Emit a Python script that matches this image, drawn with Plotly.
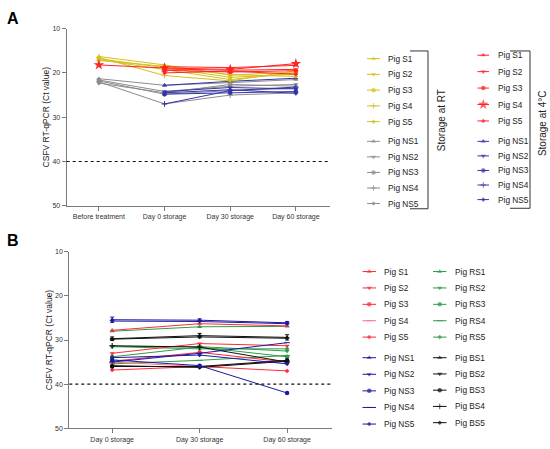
import plotly.graph_objects as go

W, H = 550, 449

# ---------------- data ----------------
timepoints_a = ["Before treatment", "Day 0 storage", "Day 30 storage", "Day 60 storage"]
timepoints_b = ["Day 0 storage", "Day 30 storage", "Day 60 storage"]
y_ticks = [10, 20, 30, 40, 50]
threshold_ct = 40

names_s = ["Pig S1", "Pig S2", "Pig S3", "Pig S4", "Pig S5"]
names_ns = ["Pig NS1", "Pig NS2", "Pig NS3", "Pig NS4", "Pig NS5"]
names_rs = ["Pig RS1", "Pig RS2", "Pig RS3", "Pig RS4", "Pig RS5"]
names_bs = ["Pig BS1", "Pig BS2", "Pig BS3", "Pig BS4", "Pig BS5"]

# Panel A - storage at RT (yellow S, gray NS)
a_rt_s = [
    [16.3, 18.2, 20.5, 19.8],
    [16.8, 18.8, 21.0, 20.3],
    [17.0, 19.2, 21.5, 20.0],
    [16.5, 20.6, 21.8, 19.5],
    [17.2, 18.5, 20.4, 20.8],
]
a_rt_ns = [
    [21.3, 22.8, 22.2, 21.5],
    [21.6, 24.2, 23.0, 22.6],
    [21.8, 24.8, 24.0, 23.5],
    [22.0, 27.0, 25.0, 24.5],
    [22.3, 24.5, 22.6, 23.0],
]
# Panel A - storage at 4 C (red S, blue NS)
a_4c_s = [
    [None, 18.6, 18.8, 18.3],
    [None, 19.1, 19.4, 19.2],
    [None, 19.4, 19.8, 19.5],
    [18.2, 18.9, 19.2, 17.9],
    [None, 20.0, 19.6, 20.3],
]
a_4c_ns = [
    [None, 22.8, 21.9, 21.2],
    [None, 24.2, 23.3, 23.6],
    [None, 24.8, 24.5, 24.2],
    [None, 27.0, 24.0, 23.2],
    [None, 24.5, 23.8, 24.6],
]

# Panel B
b_s = [
    [27.8, 26.3, 26.8],
    [33.0, 30.8, 31.3],
    [34.8, 32.8, 35.0],
    [35.0, 36.0, 34.8],
    [36.8, 36.0, 37.0],
]
b_rs = [
    [28.0, 27.0, 26.9],
    [31.4, 31.5, 32.5],
    [33.8, 31.6, 33.8],
    [35.4, 34.6, 33.5],
    [31.5, 32.0, 32.0],
]
b_ns = [
    [25.4, 25.5, 26.1],
    [25.7, 25.8, 26.3],
    [34.5, 35.8, 42.0],
    [35.0, 33.0, 30.6],
    [34.0, 33.4, 35.4],
]
b_bs = [
    [29.7, 29.0, 29.4],
    [29.8, 29.3, 29.6],
    [36.0, 36.0, 34.6],
    [31.3, 31.6, 35.0],
    [35.8, 36.2, 34.8],
]
b_ns_err = [[0.6, 0.3, 0.3], None, None, None, None]
b_bs_err = [[0.4, 0.5, 0.6], None, None, None, None]

# ---------------- styles ----------------
YELLOW = "#d4c01c"
GRAY = "#8c8c8c"
RED = "#ff2424"
BLUE = "#3434aa"
RED_B = "#ff2a3a"
PINK_B = "#ff6f80"
GREEN = "#2e9c46"
NAVY = "#1a1aa0"
BLACK = "#111111"
AXIS = "#7a7a7a"
TXT = "#222222"
FONT = "Arial, Liberation Sans, sans-serif"

sym_a = ["triangle-up", "triangle-down", "circle", "cross-thin", "diamond"]
size_a = [4.5, 4.5, 4.5, 4, 3.5]
sym_b = ["triangle-up", "triangle-down", "circle", "line-ew", "diamond"]
size_b = [4.5, 4.5, 4.5, 4, 3.5]
STAR_SIZE = 8

fig = go.Figure()


def px_x(v):
    return v / W


def px_y(v):
    return 1 - v / H


def is_open(symbol):
    return "thin" in symbol or "line" in symbol


def add_series(xcats, vals, color, symbol, size, xa, ya, name, err=None):
    xs = [c for c, v in zip(xcats, vals) if v is not None]
    ys = [v for v in vals if v is not None]
    kw = {}
    if err is not None:
        kw["error_y"] = dict(type="data", array=err, color=color, thickness=1, width=2)
    fig.add_trace(go.Scatter(
        x=xs, y=ys, mode="lines+markers", name=name,
        line=dict(color=color, width=1),
        marker=dict(symbol=symbol, size=size, color=color,
                    line=dict(width=1 if is_open(symbol) else 0, color=color)),
        xaxis=xa, yaxis=ya, showlegend=False, **kw))


# Panel A traces (x / y)
for i in range(5):
    add_series(timepoints_a, a_rt_ns[i], GRAY, sym_a[i], size_a[i], "x", "y", names_ns[i] + " (RT)")
for i in range(5):
    add_series(timepoints_a, a_4c_ns[i], BLUE, sym_a[i], size_a[i], "x", "y", names_ns[i] + " (4°C)")
for i in range(5):
    add_series(timepoints_a, a_rt_s[i], YELLOW, sym_a[i], size_a[i], "x", "y", names_s[i] + " (RT)")
for i in range(5):
    sym = "star" if i == 3 else sym_a[i]
    sz = STAR_SIZE if i == 3 else size_a[i]
    add_series(timepoints_a, a_4c_s[i], RED, sym, sz, "x", "y", names_s[i] + " (4°C)")

# Panel B traces (x2 / y2)
b_s_colors = [RED_B, RED_B, RED_B, PINK_B, RED_B]
sym_bs = sym_b[:3] + ["cross-thin", sym_b[4]]
for i in range(5):
    add_series(timepoints_b, b_rs[i], GREEN, sym_b[i], size_b[i], "x2", "y2", names_rs[i])
for i in range(5):
    add_series(timepoints_b, b_s[i], b_s_colors[i], sym_b[i], size_b[i], "x2", "y2", names_s[i])
for i in range(5):
    add_series(timepoints_b, b_bs[i], BLACK, sym_bs[i], size_b[i], "x2", "y2", names_bs[i], b_bs_err[i])
for i in range(5):
    add_series(timepoints_b, b_ns[i], NAVY, sym_b[i], size_b[i], "x2", "y2", names_ns[i], b_ns_err[i])


# ---------------- hand-built legends (pixel space on x3 / y3) ----------------
def rows(start_s, step_s, start_ns, step_ns):
    return [start_s + k * step_s for k in range(5)] + [start_ns + k * step_ns for k in range(5)]


annotations = []


def legend_block(x0, x1, text_x, ys, colors, symbols, sizes, labels):
    for yv, c, s, sz, lab in zip(ys, colors, symbols, sizes, labels):
        fig.add_trace(go.Scatter(
            x=[x0, (x0 + x1) / 2, x1], y=[yv, yv, yv], mode="lines+markers",
            line=dict(color=c, width=1),
            marker=dict(symbol=s, size=[0, sz, 0], color=c,
                        line=dict(width=1 if is_open(s) else 0, color=c)),
            xaxis="x3", yaxis="y3", showlegend=False, hoverinfo="skip"))
        annotations.append(dict(x=text_x, y=yv, xref="x3", yref="y3", text=lab, showarrow=False,
                                xanchor="left", yanchor="middle",
                                font=dict(size=8.3, color=TXT, family=FONT)))


legend_block(367, 380, 386, rows(55.5, 16.0, 139.5, 15.8),
             [YELLOW] * 5 + [GRAY] * 5, sym_a + sym_a, size_a + size_a, names_s + names_ns)
legend_block(477.5, 489, 496, rows(52.0, 16.7, 139.5, 14.8),
             [RED] * 5 + [BLUE] * 5, sym_a[:3] + ["star", sym_a[4]] + sym_a,
             size_a[:3] + [STAR_SIZE, size_a[4]] + size_a, names_s + names_ns)
legend_block(362.5, 376, 382, rows(271.8, 16.65, 359.3, 16.85),
             b_s_colors + [NAVY] * 5, sym_b + sym_b, size_b + size_b, names_s + names_ns)
legend_block(433, 446.5, 452.5, rows(271.8, 16.65, 359.3, 16.5),
             [GREEN] * 5 + [BLACK] * 5, sym_b + sym_bs, size_b + size_b, names_rs + names_bs)

# brackets and group labels
shapes = []
for (xl, xr, yt, yb) in [(410, 428, 47.7, 208), (510, 530, 47.7, 207.5)]:
    shapes.append(dict(type="path", xref="x3", yref="y3",
                       path=f"M{xl},{yt} L{xr},{yt} L{xr},{yb} L{xl},{yb}",
                       line=dict(color="#333333", width=1)))
annotations.append(dict(x=441, y=118, xref="x3", yref="y3", text="Storage at RT", textangle=-90,
                        showarrow=False, font=dict(size=10, color=TXT, family=FONT)))
annotations.append(dict(x=542, y=121, xref="x3", yref="y3", text="Storage at 4°C", textangle=-90,
                        showarrow=False, font=dict(size=10, color=TXT, family=FONT)))

# panel letters
annotations.append(dict(x=13, y=14.5, xref="x3", yref="y3", text="<b>A</b>", showarrow=False,
                        font=dict(size=16, color="#000", family=FONT)))
annotations.append(dict(x=13, y=240.5, xref="x3", yref="y3", text="<b>B</b>", showarrow=False,
                        font=dict(size=16, color="#000", family=FONT)))

# threshold dotted lines
for xa, ya in [("x", "y"), ("x2", "y2")]:
    shapes.append(dict(type="line", xref=f"{xa} domain", yref=ya, x0=0, x1=1,
                       y0=threshold_ct, y1=threshold_ct, line=dict(color="#111", width=1.2, dash="dot")))

axis_common = dict(showline=True, linecolor=AXIS, linewidth=1.2, ticks="outside", ticklen=4,
                   tickcolor=AXIS, tickwidth=1.2, showgrid=False, zeroline=False,
                   tickfont=dict(size=7, color="#333", family=FONT))
ytitle = dict(text="CSFV RT-qPCR (Ct value)", font=dict(size=8.5, color=TXT, family=FONT), standoff=1)

fig.update_layout(
    width=W, height=H, margin=dict(l=0, r=0, t=0, b=0),
    paper_bgcolor="white", plot_bgcolor="rgba(0,0,0,0)",
    font=dict(family=FONT),
    xaxis=dict(domain=[px_x(66.7), px_x(330)], anchor="y", type="category",
               categoryorder="array", categoryarray=timepoints_a, range=[-0.49, 3.52], **axis_common),
    yaxis=dict(domain=[px_y(205), px_y(25)], anchor="x", range=[50, 10], tickvals=y_ticks,
               title=ytitle, **axis_common),
    xaxis2=dict(domain=[px_x(69.3), px_x(331.7)], anchor="y2", type="category",
                categoryorder="array", categoryarray=timepoints_b, range=[-0.49, 2.51], **axis_common),
    yaxis2=dict(domain=[px_y(431), px_y(251.7)], anchor="x2", range=[50, 10], tickvals=y_ticks,
                title=ytitle, **axis_common),
    xaxis3=dict(domain=[0, 1], anchor="y3", range=[0, W], visible=False, fixedrange=True),
    yaxis3=dict(domain=[0, 1], anchor="x3", range=[H, 0], visible=False, fixedrange=True),
    shapes=shapes, annotations=annotations, showlegend=False,
)

fig.write_html("out.html", config={"displayModeBar": False},
               post_script="document.body.style.margin='0';document.body.style.overflow='hidden';")
